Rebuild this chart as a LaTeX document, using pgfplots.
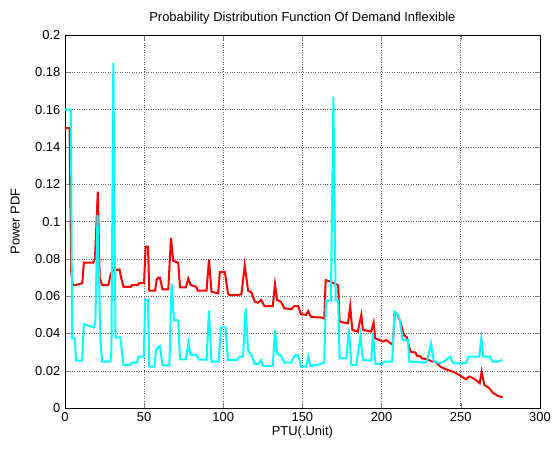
\documentclass[border=0pt]{standalone}
\usepackage{fontspec}
\setmainfont{Liberation Sans}
\usepackage{pgfplots}
\usetikzlibrary{calc}
\pgfplotsset{compat=1.18}
\definecolor{mred}{rgb}{1,0,0}
\definecolor{mcyan}{rgb}{0,1,1}
\begin{document}
\fontsize{13}{15}\selectfont
\begin{tikzpicture}
\begin{axis}[name=ax,
  scale only axis, width=476bp, height=374bp,
  xmin=0, xmax=300, ymin=0, ymax=0.2,
  xtick={0,50,...,300}, ytick={0,0.02,...,0.2},
  scaled y ticks=false,
  yticklabel style={/pgf/number format/fixed,/pgf/number format/precision=2},
  /pgf/number format/assume math mode=true,
  ticklabel style={font=\fontsize{13}{15}\selectfont},
  tick align=inside, tick pos=both, major tick length=5bp,
  grid=major, major grid style={black!60, dotted, line width=0.6pt},
  axis line style={black, line width=0.6pt},
  title={Probability Distribution Function Of Demand Inflexible},
  title style={at={(axis description cs:0.5,1)}, anchor=base, yshift=7bp, font=\fontsize{13}{15}\selectfont},
  xlabel={PTU(.Unit)},
  xlabel style={at={(axis description cs:0.5,0)}, anchor=base, yshift=-27bp, font=\fontsize{13}{15}\selectfont},
  ylabel={Power PDF},
  ylabel style={at={(axis description cs:-0.095,0.5)}, anchor=base, rotate=0, font=\fontsize{13}{15}\selectfont},
]
\addplot[mred, line width=2bp] coordinates {
(0,0.150)(3,0.150)(4,0.073)(5,0.066)(7,0.066)(11,0.067)(12,0.078)(18,0.078)(19,0.080)(20.8,0.116)(22,0.070)(23.5,0.066)(27.5,0.066)(29,0.072)(30.5,0.074)(34.5,0.0743)(35.5,0.070)(37,0.065)(41.5,0.065)(42.5,0.066)(46,0.066)(47,0.067)(50,0.067)(51,0.0865)(52.5,0.0865)(53.3,0.063)(57,0.063)(58,0.069)(59.2,0.070)(60,0.070)(61.7,0.0636)(65.3,0.0636)(67,0.0914)(68.4,0.079)(71.6,0.078)(72.7,0.0647)(76.4,0.0647)(77.9,0.0695)(79.4,0.066)(83,0.065)(84,0.063)(89.5,0.063)(91,0.0797)(92.6,0.0624)(96.8,0.0615)(97.9,0.073)(101,0.073)(103,0.0615)(104,0.0606)(108.4,0.0606)(111.5,0.061)(113.6,0.0766)(115.7,0.063)(117.8,0.062)(120,0.057)(122,0.0565)(124,0.058)(126,0.0547)(131.3,0.0547)(132.7,0.0665)(134,0.058)(136.5,0.057)(138.6,0.0535)(142.8,0.053)(145,0.0547)(147.4,0.0547)(149,0.0504)(152.3,0.0500)(153.7,0.052)(155.4,0.049)(158.6,0.0487)(161.7,0.0487)(163.8,0.048)(164.7,0.0686)(167.2,0.068)(169.5,0.067)(171.4,0.0665)(172.6,0.0656)(173.5,0.0463)(178.8,0.0455)(180.2,0.0547)(181.5,0.042)(185,0.041)(187.2,0.050)(188.2,0.042)(193.5,0.041)(195,0.046)(196,0.0374)(198.7,0.0365)(200.8,0.0357)(202.9,0.0365)(207.1,0.0339)(208.3,0.0508)(209.8,0.0505)(211.9,0.0463)(214,0.0392)(216,0.038)(218.2,0.0303)(221.4,0.0298)(222.4,0.028)(224.5,0.0278)(225.6,0.0267)(228.7,0.0262)(231.9,0.025)(234,0.025)(237.1,0.0223)(240.3,0.0209)(243.4,0.020)(246.6,0.019)(249,0.0178)(253.3,0.0155)(255.4,0.017)(258.6,0.0157)(262,0.0134)(263.2,0.0196)(264.9,0.0125)(268,0.0107)(270.1,0.0084)(273.3,0.0066)(276.4,0.0059)
};
\addplot[mcyan, line width=2bp] coordinates {
(0,0.160)(3.8,0.160)(4.6,0.0374)(6.3,0.0374)(7,0.0255)(10.9,0.0255)(12,0.045)(18.3,0.0433)(19.3,0.047)(20.6,0.1034)(22.5,0.0365)(23.5,0.025)(28.8,0.025)(29.4,0.031)(30.6,0.185)(32,0.038)(35,0.038)(37,0.0232)(41.4,0.0232)(42.4,0.0244)(45.6,0.0244)(46.6,0.0276)(49.8,0.0276)(50.8,0.058)(52.5,0.058)(53.3,0.0223)(56.7,0.0223)(57.5,0.031)(59.2,0.033)(60,0.0333)(61.7,0.023)(66,0.023)(67.4,0.0668)(68.9,0.047)(71.6,0.047)(72.7,0.0262)(76.4,0.0262)(78,0.035)(79.4,0.0285)(83,0.0285)(84.8,0.026)(89.5,0.026)(91,0.0522)(92.6,0.025)(97.2,0.025)(98.5,0.0433)(101.4,0.0433)(103,0.0258)(108.4,0.0258)(110.5,0.0276)(112.5,0.0276)(114.2,0.0535)(115.7,0.031)(117.8,0.0285)(120,0.0237)(122,0.0237)(124,0.0258)(125,0.0226)(131.3,0.0226)(132.7,0.0419)(134,0.0294)(136.5,0.028)(138.6,0.0244)(142.8,0.0244)(145,0.028)(147.4,0.0285)(149,0.0223)(152.3,0.0223)(153.7,0.0276)(155,0.0226)(160.7,0.0235)(163.8,0.0244)(164.9,0.0576)(168,0.0576)(169.6,0.167)(171,0.0576)(172.6,0.0576)(173.5,0.0267)(177.7,0.0267)(179.4,0.0422)(180.9,0.0232)(184,0.0232)(186.7,0.039)(188.2,0.0258)(193.5,0.0255)(194.5,0.040)(196.2,0.0237)(199.8,0.0237)(201.9,0.025)(206.7,0.025)(208.2,0.0517)(210.3,0.050)(211.3,0.048)(213.4,0.0365)(216.6,0.0365)(217.6,0.025)(222.4,0.0248)(226.6,0.0244)(228.7,0.025)(231.2,0.0348)(233,0.025)(237.1,0.0241)(239.2,0.025)(243.4,0.0276)(244.5,0.025)(246,0.024)(253.3,0.0241)(255,0.0276)(261.7,0.0276)(263,0.0374)(264.2,0.0276)(268.4,0.0276)(270.1,0.025)(273.3,0.025)(276.4,0.0258)
};
\end{axis}
\path ($(ax.south west)+(-65bp,-40bp)$) rectangle ($(ax.north east)+(14bp,35bp)$);
\end{tikzpicture}
\end{document}
